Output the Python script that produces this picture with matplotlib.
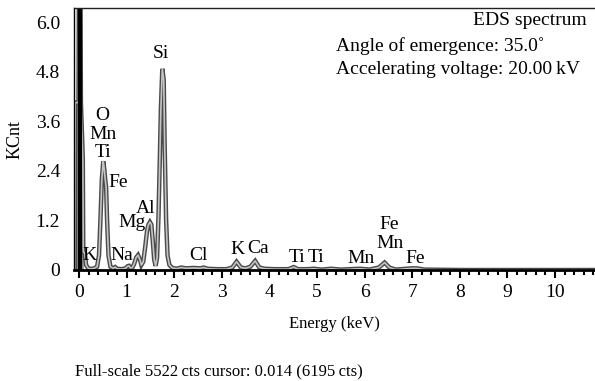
import numpy as np
import matplotlib.pyplot as plt
from matplotlib.ticker import MultipleLocator

plt.rcParams['font.family'] = ['Liberation Serif', 'DejaVu Serif']

# spectrum (energy in keV, counts in KCnt)
energy = [-0.09, -0.08, -0.01, 0.0, 0.03, 0.04, 0.08, 0.09, 0.12, 0.15, 0.20, 0.30,
          0.38, 0.42, 0.45, 0.48, 0.51, 0.53, 0.55, 0.57, 0.59, 0.62, 0.66, 0.72,
          0.76, 0.80, 0.90, 0.98, 1.02, 1.05, 1.08, 1.12, 1.16, 1.20, 1.24, 1.28,
          1.31, 1.35, 1.39, 1.43, 1.46, 1.49, 1.52, 1.55, 1.58, 1.61, 1.64, 1.67,
          1.70, 1.72, 1.75, 1.78, 1.80, 1.83, 1.86, 1.90, 1.96, 2.05, 2.15, 2.25,
          2.40, 2.55, 2.62, 2.70, 2.90, 3.10, 3.22, 3.31, 3.40, 3.50, 3.60, 3.70,
          3.79, 3.90, 4.10, 4.40, 4.51, 4.60, 4.80, 4.93, 5.10, 5.30, 5.50, 5.90,
          6.10, 6.30, 6.42, 6.52, 6.65, 7.00, 7.10, 7.25, 8.00, 10.90]
counts = [0.0, 4.05, 4.05, 7.0, 7.0, 4.05, 2.7, 0.45, 0.40, 0.12, 0.03, 0.03,
          0.08, 0.35, 1.2, 2.2, 2.63, 2.45, 2.2, 2.0, 1.2, 0.35, 0.08, 0.04,
          0.07, 0.03, 0.02, 0.04, 0.09, 0.10, 0.05, 0.06, 0.15, 0.30, 0.36, 0.25,
          0.12, 0.20, 0.55, 0.95, 1.10, 1.16, 1.10, 0.70, 0.25, 0.10, 0.30, 1.3,
          2.8, 3.9, 4.87, 4.6, 3.0, 1.2, 0.35, 0.12, 0.05, 0.03, 0.06, 0.04,
          0.05, 0.04, 0.06, 0.03, 0.02, 0.02, 0.06, 0.20, 0.06, 0.04, 0.08, 0.22,
          0.06, 0.03, 0.02, 0.02, 0.07, 0.02, 0.02, 0.03, 0.01, 0.03, 0.01, 0.03,
          0.01, 0.06, 0.18, 0.06, 0.01, 0.04, 0.04, 0.01, 0.0, 0.0]

# element labels: text, energy, height of label centre
peak_labels = ['O', 'Mn', 'Ti', 'Fe', 'Si', 'K', 'Na', 'Mg', 'Al', 'Cl',
               'K', 'Ca', 'Ti', 'Ti', 'Mn', 'Fe', 'Mn', 'Fe']
label_x = [0.49, 0.50, 0.50, 0.82, 1.71, 0.23, 0.89, 1.12, 1.40, 2.50,
           3.32, 3.76, 4.57, 4.97, 5.93, 6.51, 6.53, 7.06]
label_y = [3.75, 3.28, 2.85, 2.12, 5.23, 0.36, 0.34, 1.14, 1.50, 0.34,
           0.50, 0.53, 0.31, 0.31, 0.28, 1.11, 0.63, 0.28]

x_ticks = np.arange(0, 11)
y_ticks = [0, 1.2, 2.4, 3.6, 4.8, 6.0]

fig = plt.figure(figsize=(5.95, 3.81), dpi=100)
ax = fig.add_axes([74 / 595, 111 / 381, 521 / 595, 262 / 381])

e = np.array(energy)
c = np.array(counts)
noise = e <= 0.09
ax.fill_between(e[noise], 0, np.minimum(c[noise], 4.05), color='#8a8a8a', lw=0)
ax.plot(e, c, color='#4a4a4a', lw=3.2, solid_joinstyle='miter')
ax.plot(e, c, color='#c4c4c4', lw=1.2)
ax.plot([0.015, 0.015], [0, 7], color='black', lw=3)

for t, x, y in zip(peak_labels, label_x, label_y):
    ax.text(x, y, t, ha='center', va='center', fontsize=14)

ax.set_xlim(-0.105, 10.84)
ax.set_ylim(0, 6.34)
ax.set_xticks(x_ticks)
ax.xaxis.set_minor_locator(MultipleLocator(0.2))
ax.set_yticks(y_ticks)
ax.set_yticklabels(['0', '1.2', '2.4', '3.6', '4.8', '6.0'])
ax.tick_params(axis='x', which='major', length=6, width=1.5, direction='out', labelsize=14, pad=4)
ax.tick_params(axis='x', which='minor', length=3.5, width=1.5, direction='out')
ax.tick_params(axis='y', length=0, labelsize=14, pad=10)

ax.spines['right'].set_visible(False)
ax.spines['bottom'].set_linewidth(2)
ax.spines['left'].set_linewidth(1)
ax.spines['top'].set_linewidth(1)
ax.spines['top'].set_color('#222222')

ax.set_xlabel('Energy (keV)', fontsize=12, labelpad=11)
ax.set_ylabel('KCnt', fontsize=13, labelpad=9)

ax.text(0.985, 0.954, 'EDS spectrum', transform=ax.transAxes, ha='right', va='center', fontsize=14)
ax.text(0.503, 0.855, 'Angle of emergence: 35.0\u02da', transform=ax.transAxes, ha='left', va='center', fontsize=14)
ax.text(0.503, 0.767, 'Accelerating voltage: 20.00\u2009kV', transform=ax.transAxes, ha='left', va='center', fontsize=14)

fig.text(75 / 595, 1 - 371 / 381, 'Full-scale 5522\u2009cts cursor: 0.014 (6195\u2009cts)',
         ha='left', va='center', fontsize=12)

fig.savefig('out.png', dpi=100)
